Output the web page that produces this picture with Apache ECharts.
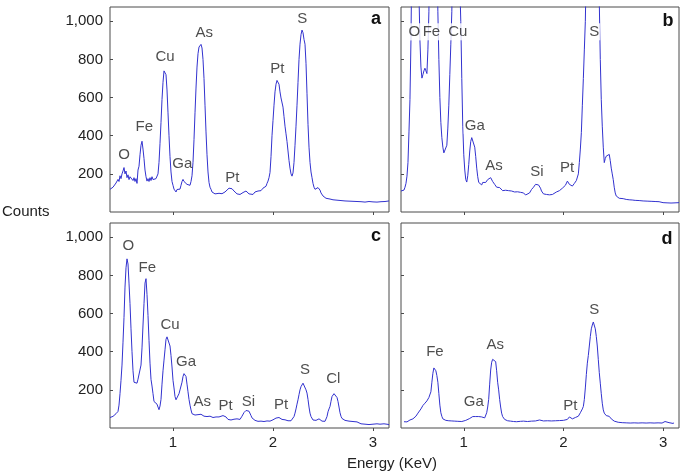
<!DOCTYPE html>
<html>
<head>
<meta charset="utf-8">
<script src="https://cdn.jsdelivr.net/npm/echarts@6/dist/echarts.min.js"></script>
<style>html,body{margin:0;padding:0;background:#fff}#c{width:685px;height:473px}</style>
</head>
<body>
<div id="c"></div>
<script>
// ---- Data (Energy keV, Counts) ----
var spectrumA = [
[0.37,119],[0.38,125],[0.39,122],[0.40,130],[0.41,128],[0.42,140],[0.43,152],[0.44,145],[0.45,171],[0.46,160],[0.47,190],[0.48,175],[0.49,200],[0.50,215],[0.51,233],[0.52,200],[0.53,215],[0.54,180],[0.55,195],[0.56,170],[0.57,185],[0.58,175],[0.59,190],[0.60,165],[0.61,180],[0.62,160],[0.63,175],[0.64,150],[0.65,220],[0.66,240],[0.67,300],[0.68,350],[0.69,371],[0.70,330],[0.71,280],[0.72,220],[0.73,185],[0.74,162],[0.75,175],[0.76,160],[0.77,180],[0.78,165],[0.79,185],[0.80,170],[0.81,178],[0.82,160],[0.83,175],[0.84,168],[0.85,200],[0.86,260],[0.87,360],[0.88,470],[0.89,590],[0.90,680],[0.91,740],[0.92,749],[0.93,720],[0.94,640],[0.95,520],[0.96,400],[0.97,290],[0.98,210],[0.99,160],[1.00,140],[1.01,120],[1.02,112],[1.03,105],[1.04,118],[1.05,110],[1.06,125],[1.07,120],[1.08,140],[1.09,160],[1.10,171],[1.11,160],[1.12,150],[1.13,165],[1.14,145],[1.15,136],[1.16,150],[1.17,140],[1.18,160],[1.19,190],[1.20,260],[1.21,380],[1.22,520],[1.23,650],[1.24,760],[1.25,830],[1.26,865],[1.27,875],[1.28,879],[1.29,860],[1.30,800],[1.31,700],[1.32,560],[1.33,420],[1.34,300],[1.35,210],[1.36,155],[1.37,130],[1.38,119],[1.39,105],[1.40,100],[1.42,95],[1.43,102],[1.44,92],[1.46,98],[1.47,90],[1.49,96],[1.50,100],[1.52,105],[1.54,115],[1.56,125],[1.58,131],[1.59,122],[1.61,110],[1.62,100],[1.64,95],[1.65,88],[1.67,92],[1.68,100],[1.69,95],[1.70,102],[1.72,98],[1.73,110],[1.74,100],[1.75,110],[1.76,95],[1.78,100],[1.80,92],[1.82,105],[1.83,98],[1.85,110],[1.86,100],[1.88,112],[1.89,105],[1.90,125],[1.91,115],[1.93,135],[1.94,150],[1.95,162],[1.96,180],[1.97,207],[1.98,290],[1.99,400],[2.00,480],[2.01,560],[2.02,630],[2.03,670],[2.04,690],[2.05,693],[2.06,670],[2.07,630],[2.08,598],[2.09,590],[2.10,550],[2.11,500],[2.12,450],[2.13,410],[2.14,370],[2.15,320],[2.16,270],[2.17,230],[2.18,200],[2.19,188],[2.20,205],[2.21,260],[2.22,350],[2.23,450],[2.24,560],[2.25,680],[2.26,800],[2.27,880],[2.28,930],[2.29,954],[2.30,940],[2.31,905],[2.32,880],[2.33,780],[2.34,620],[2.35,460],[2.36,340],[2.37,260],[2.38,210],[2.39,180],[2.40,150],[2.41,130],[2.42,119],[2.43,115],[2.44,125],[2.45,128],[2.46,136],[2.47,115],[2.48,100],[2.49,95],[2.50,84],[2.52,78],[2.53,72],[2.55,75],[2.57,68],[2.59,72],[2.60,64],[2.62,70],[2.64,62],[2.66,66],[2.68,60],[2.70,64],[2.72,58],[2.74,62],[2.76,57],[2.78,63],[2.80,56],[2.82,60],[2.84,55],[2.86,62],[2.88,54],[2.90,58],[2.92,52],[2.94,60],[2.96,55],[2.98,59],[3.00,53],[3.02,57],[3.04,52],[3.06,58],[3.08,54],[3.10,60],[3.12,55],[3.14,57],[3.16,58]
];
var spectrumB = [
[0.37,110],[0.38,105],[0.39,118],[0.40,115],[0.41,130],[0.42,150],[0.43,188],[0.44,260],[0.45,420],[0.46,589],[0.47,900],[0.48,1400],[0.50,2200],[0.52,2400],[0.54,1800],[0.55,1150],[0.56,900],[0.57,760],[0.58,702],[0.59,720],[0.60,740],[0.61,754],[0.62,740],[0.63,726],[0.64,850],[0.65,1050],[0.66,1500],[0.69,2500],[0.72,2000],[0.73,1400],[0.74,1050],[0.75,800],[0.76,600],[0.77,470],[0.78,390],[0.79,340],[0.80,310],[0.81,302],[0.82,310],[0.83,350],[0.84,440],[0.85,560],[0.86,720],[0.87,880],[0.88,1050],[0.89,1400],[0.92,2600],[0.95,1700],[0.96,1200],[0.97,1000],[0.98,700],[0.99,450],[1.00,300],[1.01,220],[1.02,170],[1.03,157],[1.04,190],[1.05,250],[1.06,320],[1.07,370],[1.08,390],[1.09,397],[1.10,380],[1.11,340],[1.12,290],[1.13,230],[1.14,185],[1.15,155],[1.16,145],[1.17,150],[1.18,142],[1.19,155],[1.20,148],[1.21,160],[1.22,155],[1.23,165],[1.24,170],[1.25,168],[1.26,175],[1.27,180],[1.28,172],[1.29,160],[1.30,150],[1.31,145],[1.32,138],[1.33,130],[1.34,135],[1.35,125],[1.36,128],[1.37,119],[1.38,122],[1.39,112],[1.40,118],[1.41,110],[1.42,114],[1.43,108],[1.45,112],[1.46,104],[1.48,110],[1.49,102],[1.51,105],[1.52,100],[1.54,106],[1.55,98],[1.57,103],[1.58,95],[1.60,100],[1.61,92],[1.62,89],[1.63,95],[1.64,90],[1.66,100],[1.67,110],[1.68,118],[1.69,125],[1.70,130],[1.71,136],[1.72,145],[1.73,138],[1.74,150],[1.75,142],[1.76,136],[1.77,125],[1.78,110],[1.79,100],[1.80,95],[1.81,94],[1.82,100],[1.83,92],[1.85,96],[1.86,90],[1.88,98],[1.89,92],[1.90,100],[1.91,95],[1.93,105],[1.94,100],[1.96,112],[1.97,119],[1.98,115],[1.99,125],[2.00,130],[2.01,125],[2.02,140],[2.03,150],[2.04,162],[2.05,158],[2.06,145],[2.07,140],[2.08,138],[2.09,136],[2.10,145],[2.11,150],[2.12,155],[2.13,165],[2.14,172],[2.15,200],[2.16,260],[2.17,330],[2.18,416],[2.19,560],[2.20,700],[2.21,850],[2.22,1000],[2.23,1300],[2.26,2200],[2.29,2600],[2.32,2300],[2.35,1400],[2.36,1100],[2.37,800],[2.38,589],[2.39,450],[2.40,340],[2.41,259],[2.42,280],[2.43,293],[2.44,285],[2.45,300],[2.46,302],[2.47,270],[2.48,230],[2.49,200],[2.50,170],[2.51,130],[2.52,100],[2.53,84],[2.54,78],[2.55,75],[2.56,72],[2.57,70],[2.58,66],[2.60,70],[2.61,62],[2.63,66],[2.64,60],[2.66,64],[2.67,58],[2.69,63],[2.70,57],[2.72,61],[2.74,55],[2.76,60],[2.78,54],[2.80,58],[2.82,53],[2.84,57],[2.86,52],[2.88,56],[2.90,51],[2.92,55],[2.94,50],[2.96,54],[2.98,52],[3.00,49],[3.02,53],[3.04,48],[3.06,52],[3.08,47],[3.10,51],[3.12,48],[3.14,50],[3.16,49]
];
var spectrumC = [
[0.37,55],[0.38,62],[0.39,58],[0.40,61],[0.41,68],[0.42,64],[0.43,75],[0.44,80],[0.45,87],[0.46,120],[0.47,180],[0.48,250],[0.49,330],[0.50,450],[0.51,580],[0.52,739],[0.53,840],[0.54,887],[0.55,860],[0.56,760],[0.57,652],[0.58,520],[0.59,400],[0.60,300],[0.61,240],[0.62,231],[0.63,240],[0.64,235],[0.65,256],[0.66,250],[0.67,262],[0.68,330],[0.69,420],[0.70,540],[0.71,652],[0.72,760],[0.73,783],[0.74,700],[0.75,590],[0.76,460],[0.77,340],[0.78,255],[0.79,220],[0.80,180],[0.81,139],[0.82,130],[0.83,135],[0.84,125],[0.85,110],[0.86,96],[0.87,115],[0.88,150],[0.89,230],[0.90,300],[0.91,356],[0.92,410],[0.93,465],[0.94,478],[0.95,485],[0.96,470],[0.97,430],[0.98,380],[0.99,320],[1.00,250],[1.01,210],[1.02,165],[1.03,148],[1.04,150],[1.05,139],[1.06,180],[1.07,200],[1.08,205],[1.09,240],[1.10,270],[1.11,285],[1.12,291],[1.13,270],[1.14,230],[1.15,190],[1.16,150],[1.17,120],[1.18,95],[1.19,75],[1.20,70],[1.21,72],[1.22,68],[1.23,75],[1.24,73],[1.25,70],[1.26,76],[1.27,68],[1.28,72],[1.29,66],[1.30,70],[1.31,62],[1.32,70],[1.33,65],[1.34,60],[1.35,66],[1.36,58],[1.37,62],[1.38,56],[1.39,60],[1.40,55],[1.42,53],[1.43,58],[1.45,52],[1.46,58],[1.48,62],[1.50,65],[1.51,60],[1.52,55],[1.53,58],[1.54,50],[1.55,45],[1.56,40],[1.57,35],[1.58,42],[1.59,45],[1.60,38],[1.61,46],[1.62,43],[1.63,40],[1.64,48],[1.65,40],[1.66,50],[1.67,45],[1.68,55],[1.69,62],[1.70,70],[1.71,81],[1.72,86],[1.73,92],[1.74,96],[1.75,94],[1.76,88],[1.77,78],[1.78,65],[1.79,53],[1.80,50],[1.81,45],[1.82,40],[1.83,42],[1.84,36],[1.85,35],[1.86,40],[1.87,32],[1.88,36],[1.89,30],[1.90,38],[1.91,34],[1.92,40],[1.93,33],[1.94,37],[1.95,35],[1.96,42],[1.97,36],[1.98,40],[1.99,38],[2.00,43],[2.01,45],[2.02,40],[2.03,52],[2.04,55],[2.05,61],[2.06,55],[2.07,50],[2.08,54],[2.09,45],[2.10,48],[2.11,42],[2.12,43],[2.13,40],[2.14,45],[2.15,38],[2.16,40],[2.17,36],[2.18,38],[2.19,35],[2.20,45],[2.21,60],[2.22,78],[2.23,100],[2.24,125],[2.25,148],[2.26,175],[2.27,200],[2.28,217],[2.29,225],[2.30,235],[2.31,238],[2.32,230],[2.33,200],[2.34,183],[2.35,150],[2.36,110],[2.37,78],[2.38,60],[2.39,50],[2.40,42],[2.41,38],[2.42,35],[2.43,40],[2.44,45],[2.45,38],[2.46,48],[2.47,44],[2.48,40],[2.49,36],[2.50,38],[2.51,35],[2.52,35],[2.53,45],[2.54,60],[2.55,85],[2.56,100],[2.57,113],[2.58,140],[2.59,165],[2.60,175],[2.61,180],[2.62,186],[2.63,170],[2.64,160],[2.65,139],[2.66,110],[2.67,80],[2.68,61],[2.69,50],[2.70,45],[2.72,40],[2.74,38],[2.76,36],[2.78,38],[2.80,34],[2.82,35],[2.84,32],[2.86,28],[2.88,22],[2.90,25],[2.92,20],[2.94,22],[2.96,18],[2.98,17],[3.00,20],[3.02,18],[3.04,22],[3.05,26],[3.07,20],[3.09,18],[3.11,22],[3.13,17],[3.15,19],[3.16,17]
];
var spectrumD = [
[0.40,33],[0.41,30],[0.42,35],[0.43,32],[0.44,38],[0.45,36],[0.46,42],[0.47,40],[0.48,43],[0.49,48],[0.50,50],[0.51,58],[0.52,62],[0.53,70],[0.54,78],[0.55,75],[0.56,85],[0.57,100],[0.58,110],[0.59,118],[0.60,125],[0.61,130],[0.62,135],[0.63,142],[0.64,150],[0.65,160],[0.66,165],[0.67,190],[0.68,240],[0.69,287],[0.70,315],[0.71,325],[0.72,300],[0.73,275],[0.74,240],[0.75,180],[0.76,120],[0.77,80],[0.78,61],[0.79,48],[0.80,42],[0.81,38],[0.82,40],[0.83,36],[0.84,42],[0.85,38],[0.86,35],[0.87,40],[0.88,37],[0.90,42],[0.91,36],[0.93,40],[0.94,35],[0.96,38],[0.98,34],[1.00,36],[1.02,40],[1.04,45],[1.06,50],[1.07,57],[1.08,55],[1.09,60],[1.10,58],[1.11,62],[1.12,60],[1.13,66],[1.14,62],[1.15,60],[1.16,70],[1.17,62],[1.18,58],[1.19,55],[1.20,54],[1.21,53],[1.22,60],[1.23,80],[1.24,110],[1.25,150],[1.26,230],[1.27,304],[1.28,345],[1.29,360],[1.30,370],[1.31,350],[1.32,348],[1.33,300],[1.34,240],[1.35,200],[1.36,150],[1.37,110],[1.38,78],[1.39,60],[1.40,50],[1.41,45],[1.42,42],[1.43,40],[1.44,38],[1.45,40],[1.47,36],[1.48,38],[1.50,34],[1.52,37],[1.53,33],[1.55,38],[1.57,35],[1.58,40],[1.60,36],[1.62,38],[1.64,34],[1.66,40],[1.68,36],[1.70,39],[1.72,37],[1.74,40],[1.76,42],[1.77,51],[1.78,40],[1.80,37],[1.82,35],[1.84,38],[1.86,34],[1.88,37],[1.90,36],[1.92,38],[1.94,35],[1.96,39],[1.98,36],[2.00,40],[2.02,38],[2.04,45],[2.05,50],[2.06,58],[2.07,61],[2.08,52],[2.09,48],[2.10,50],[2.11,52],[2.12,55],[2.13,58],[2.14,60],[2.15,62],[2.16,70],[2.17,80],[2.18,90],[2.19,100],[2.20,113],[2.21,150],[2.22,210],[2.23,280],[2.24,340],[2.25,380],[2.26,430],[2.27,480],[2.28,520],[2.29,540],[2.30,556],[2.31,550],[2.32,520],[2.33,480],[2.34,430],[2.35,360],[2.36,290],[2.37,235],[2.38,180],[2.39,130],[2.40,95],[2.41,78],[2.42,70],[2.43,65],[2.44,60],[2.45,62],[2.46,61],[2.47,55],[2.48,48],[2.49,42],[2.50,40],[2.51,36],[2.53,32],[2.55,30],[2.57,26],[2.59,28],[2.61,25],[2.63,27],[2.65,24],[2.67,26],[2.69,25],[2.71,27],[2.73,24],[2.75,26],[2.77,25],[2.79,27],[2.81,24],[2.83,26],[2.85,25],[2.87,27],[2.89,24],[2.91,26],[2.93,25],[2.95,27],[2.97,24],[2.99,26],[3.01,30],[3.02,34],[3.03,30],[3.04,26],[3.06,28],[3.08,25],[3.10,24],[3.11,27]
];
// element annotations: [name, keV, counts]
var labelsA = [['O',0.51,302],['Fe',0.713,444],['Cu',0.92,812],['Ga',1.093,250],['As',1.313,942],['Pt',1.593,180],['Pt',2.043,750],['S',2.293,1015]];
var labelsB = [['O',0.505,945],['Fe',0.675,945],['Cu',0.94,945],['S',2.31,945],['Ga',1.11,453],['As',1.303,241],['Si',1.733,211],['Pt',2.037,232]];
var labelsC = [['O',0.553,957],['Fe',0.743,840],['Cu',0.97,539],['Ga',1.13,348],['As',1.293,136],['Pt',1.527,116],['Si',1.753,139],['Pt',2.08,122],['S',2.32,304],['Cl',2.603,256]];
var labelsD = [['Fe',0.71,400],['Ga',1.10,139],['As',1.317,438],['Pt',2.07,116],['S',2.31,621]];
var panelLetters = ['a','b','c','d'];
var xTicks = [1,2,3];
var yTicks = [200,400,600,800,1000];
var xMin = 0.37, xMax = 3.16, yMin = 0, yMax = 1075;

var FONT = "'Liberation Sans', Arial, Helvetica, sans-serif";
var LINE = '#3232cf';
var grids = [
  {left:110, top:7, width:279, height:205},
  {left:401, top:7, width:278, height:205},
  {left:110, top:223, width:279, height:205},
  {left:401, top:223, width:278, height:205}
];
var spectra = [spectrumA, spectrumB, spectrumC, spectrumD];
var labelSets = [labelsA, labelsB, labelsC, labelsD];

function fmt(v){ return v >= 1000 ? Math.floor(v/1000) + ',' + String(v%1000).padStart(3,'0') : String(v); }

var option = {
  animation:false,
  backgroundColor:'#fff',
  grid: grids.map(function(g){ return Object.assign({show:true, borderColor:'#4a4a4a', borderWidth:1, backgroundColor:'transparent', containLabel:false}, g); }),
  xAxis: grids.map(function(g,i){ return {
    type:'value', gridIndex:i, min:xMin, max:xMax,
    axisLine:{show:false},
    splitLine:{show:false},
    axisTick:{show:true, inside:false, length:3, lineStyle:{color:'#4a4a4a'}, customValues:xTicks},
    axisLabel:{show:i>=2, customValues:xTicks, margin:7, color:'#222', fontSize:15, fontFamily:FONT}
  };}),
  yAxis: grids.map(function(g,i){ return {
    type:'value', gridIndex:i, min:yMin, max:yMax,
    axisLine:{show:false},
    splitLine:{show:false},
    axisTick:{show:true, inside:true, length:3, lineStyle:{color:'#4a4a4a'}, customValues:yTicks},
    axisLabel:{show:(i%2===0), customValues:yTicks, margin:7, color:'#222', fontSize:15, fontFamily:FONT, formatter:function(v){return fmt(v);}}
  };}),
  series: [],
  graphic: [
    {type:'text', left:2, top:204, style:{text:'Counts', font:'15px '+FONT, fill:'#222'}},
    {type:'text', x:392, y:464, style:{text:'Energy (KeV)', font:'15px '+FONT, fill:'#222', align:'center', verticalAlign:'middle'}},
    {type:'text', x:376, y:19, style:{text:panelLetters[0], font:'bold 18px '+FONT, fill:'#111', align:'center', verticalAlign:'middle'}},
    {type:'text', x:668, y:21, style:{text:panelLetters[1], font:'bold 18px '+FONT, fill:'#111', align:'center', verticalAlign:'middle'}},
    {type:'text', x:376, y:236, style:{text:panelLetters[2], font:'bold 18px '+FONT, fill:'#111', align:'center', verticalAlign:'middle'}},
    {type:'text', x:667, y:239, style:{text:panelLetters[3], font:'bold 18px '+FONT, fill:'#111', align:'center', verticalAlign:'middle'}}
  ]
};
spectra.forEach(function(d,i){
  option.series.push({type:'line', xAxisIndex:i, yAxisIndex:i, data:d, symbol:'none', clip:true, z:2,
    lineStyle:{color:LINE, width:1}});
});
labelSets.forEach(function(ls,i){
  option.series.push({type:'scatter', xAxisIndex:i, yAxisIndex:i, symbolSize:0, z:5, silent:true,
    data: ls.map(function(l){ return {name:l[0], value:[l[1], l[2]]}; }),
    label:{show:true, position:'inside', formatter:'{b}', color:'#222', fontSize:15, fontFamily:FONT,
      backgroundColor: i===1 ? '#fff' : 'transparent', padding:[1,1], align:'center', verticalAlign:'middle'}
  });
});
var chart = echarts.init(document.getElementById('c'), null, {renderer:'canvas'});
chart.setOption(option);
</script>
</body>
</html>
